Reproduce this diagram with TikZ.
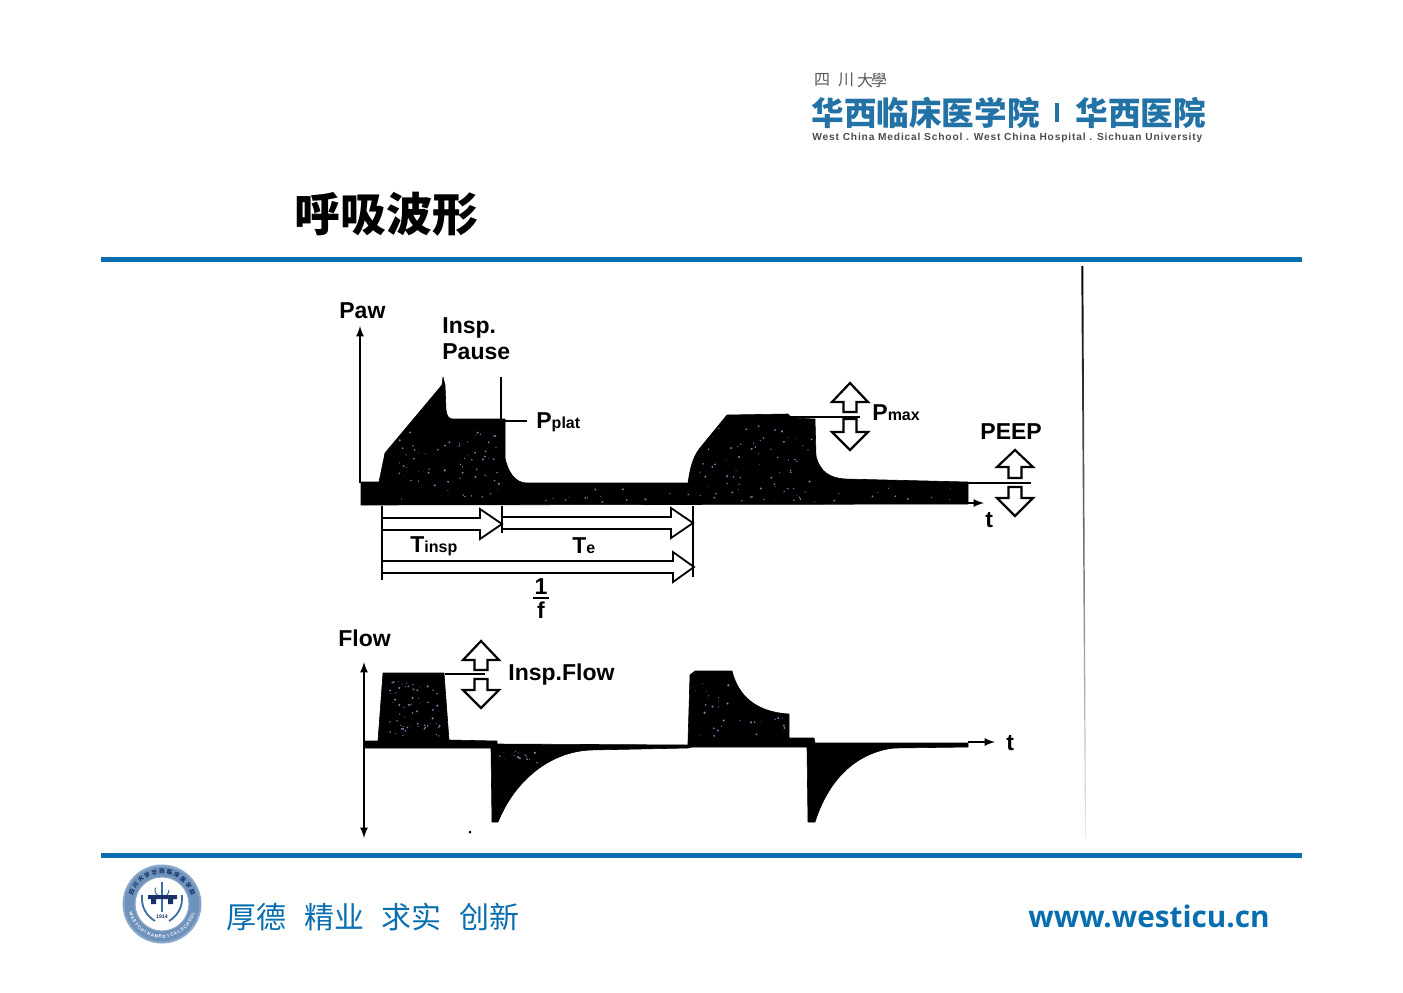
\documentclass[tikz,border=0pt]{standalone}
\usepackage{fontspec}
\setmainfont{Liberation Sans}
\newfontfamily\cjk{Noto Sans CJK SC}
\newfontfamily\webfont{Open Sans}
\usetikzlibrary{arrows, positioning}
\definecolor{rulablue}{RGB}{8,110,176}
\definecolor{logoblue}{RGB}{34,114,166}
\definecolor{sealblue}{RGB}{62,110,165}
\definecolor{sealnavy}{RGB}{24,50,105}
\tikzstyle{rula} = [rulablue, line width=2.5pt]
\tikzstyle{etiqueta} = [inner sep=0pt, anchor=west, font=\fontsize{11.5}{12}\selectfont\bfseries]
\tikzstyle{onda} = [fill=black, draw=black, line width=0.3pt, line join=round]
\tikzstyle{linea} = [black, line width=0.8pt]
\tikzstyle{hueca} = [draw=black, fill=white, line width=1.1pt, line join=miter]
\newcommand{\subt}[1]{{\fontsize{8}{8}\selectfont #1}}
% flecha hueca vertical: centro x, fin del tallo, base de punta, punta
\newcommand{\bloque}[4]{\draw[hueca] (#1-6.5,#2) -- (#1-6.5,#3) -- (#1-18,#3) -- (#1,#4) -- (#1+18,#3) -- (#1+6.5,#3) -- (#1+6.5,#2) -- cycle;}
% flecha hueca horizontal: inicio, base de punta, punta, y
\newcommand{\tiempo}[4]{\draw[hueca, fill=none, line width=0.9pt] (#1,#4-6) -- (#2,#4-6) -- (#2,#4-15) -- (#3,#4) -- (#2,#4+15) -- (#2,#4+6) -- (#1,#4+6);}
% motas claras dentro de lo negro
\newcommand{\motas}[5]{\foreach \i in {1,...,#5}{
	\pgfmathsetmacro{\mx}{#1+rnd*#3}\pgfmathsetmacro{\my}{#2+rnd*#4}\pgfmathsetmacro{\mr}{0.3+rnd*0.9}
	\fill[blue!25!gray!80] (\mx,\my) circle (\mr);}}
\begin{document}
\begin{tikzpicture}[x=0.5pt, y=-0.5pt]
	\useasboundingbox (0,0) rectangle (1403,992);
	\pgfmathsetseed{1403}
	% cabecera
	\foreach \ch/\x in {四/822, 川/846, 大/865, 學/879}{
		\node[inner sep=0pt, text=black!65, font=\cjk\fontsize{8}{8}\selectfont] (sc\x) at (\x,80) {\ch};}
	\node[inner sep=0pt, anchor=west, text=logoblue, font=\cjk\fontsize{16.3}{17}\selectfont\bfseries] (hospa) at (811,113) {华西临床医学院};
	\draw[logoblue, line width=2.2pt] (1057,103) -- (1057,122);
	\node[inner sep=0pt, anchor=west, text=logoblue, font=\cjk\fontsize{16.3}{17}\selectfont\bfseries] (hospb) at (1075,113) {华西医院};
	\node[inner sep=0pt, anchor=west, text=black!70, font=\fontsize{5.1}{6}\selectfont\bfseries\addfontfeature{LetterSpace=8.2}] (hospc) at (812,137.5) {West China Medical School . West China Hospital . Sichuan University};
	\node[inner sep=0pt, font=\cjk\fontsize{23}{24}\selectfont\bfseries] (titulo) at (386,214) {呼吸波形};
	\draw[rula] (101,259) -- (1302,259);
	\draw[rula] (101,855) -- (1302,855);
	\shade[top color=black, middle color=black!70, bottom color=black!8] (1081.3,266) -- (1083.3,266) -- (1086,838) -- (1085,838) -- cycle;
	% presion
	\draw[linea, -latex] (360,483) -- (360,326);
	\draw[onda] (361,482) -- (379,482) -- (385,453) -- (442,385) -- (443,377) -- (445,385) -- (446,410) .. controls (447,416) and (448,418) .. (452,419) -- (505,419) -- (505,458) .. controls (508,472) and (515,483) .. (527,483) -- (688,483) .. controls (690,470) and (692,458) .. (700,448) -- (727,415) -- (788,414) -- (792,418) -- (815,419) -- (816,456) .. controls (820,472) and (830,478) .. (845,479) -- (968,482) -- (968,504) -- (361,505) -- cycle;
	\motas{395}{430}{105}{70}{70}
	\motas{700}{425}{112}{75}{60}
	\motas{530}{488}{430}{14}{35}
	\draw[linea, -latex] (968,503) -- (984,503);
	\draw[linea] (501,377) -- (501,421);
	\draw[linea] (505,421) -- (527,421);
	\draw[linea] (790,417) -- (860,417);
	\draw[linea] (968,483) -- (1031,483);
	\bloque{850}{412}{402}{383}
	\bloque{850}{419}{432}{450}
	\bloque{1015}{478}{467}{450}
	\bloque{1015}{487}{498}{516}
	\draw[linea] (382,506) -- (382,580);
	\draw[linea] (502,506) -- (502,533);
	\draw[linea] (693,506) -- (693,577);
	\tiempo{382}{480}{502}{524}
	\tiempo{502}{671}{693}{523}
	\tiempo{382}{673}{694}{567}
	\node[etiqueta] (paw) at (339,311) {Paw};
	\node[etiqueta] (insp) at (442,328) {Insp.};
	\node[etiqueta] (pause) at (442,352) {Pause};
	\node[etiqueta] (pplat) at (536,422) {P\subt{plat}};
	\node[etiqueta] (pmax) at (872,413) {P\subt{max}};
	\node[etiqueta] (peep) at (980,432) {PEEP};
	\node[etiqueta] (tp) at (985,520) {t};
	\node[etiqueta] (tinsp) at (410,546) {T\subt{insp}};
	\node[etiqueta] (te) at (572,546) {T\subt{e}};
	\node[etiqueta, anchor=center] (uno) at (541,587) {1};
	\node[etiqueta, anchor=center] (efe) at (541,610) {f};
	\draw[linea] (533,598) -- (549,598);
	% flujo
	\draw[linea, latex-latex] (364,662) -- (364,838);
	\draw[onda] (364,741) -- (378,741) -- (383,673) -- (444,673) -- (449,740) -- (497,741) -- (497,744) -- (688,745) -- (688,742) -- (690,675) -- (695,671) -- (732,671) .. controls (738,695) and (755,712) .. (789,714) -- (789,738) -- (814,738) -- (815,743) -- (968,743) -- (968,747) -- (894,748) .. controls (860,752) and (830,775) .. (815,822) -- (808,822) -- (807,747) -- (692,747) -- (688,748) -- (590,750) .. controls (550,752) and (515,780) .. (498,822) -- (492,822) -- (491,748) -- (364,748) -- cycle;
	\motas{388}{680}{52}{58}{65}
	\motas{695}{680}{35}{58}{18}
	\motas{735}{718}{50}{20}{10}
	\motas{498}{750}{40}{14}{14}
	\draw[linea, -latex] (968,742) -- (995,742);
	\draw[linea] (445,674) -- (485,674);
	\bloque{481}{670}{660}{641}
	\bloque{481}{679}{690}{708}
	\fill (470,832) circle (1.5);
	\node[etiqueta] (flow) at (338,638) {Flow};
	\node[etiqueta] (inspflow) at (508,675) {Insp.Flow};
	\node[etiqueta] (tf) at (1006,743) {t};
	% pie
	\draw[sealblue!60, line width=1pt, fill=sealblue!75] (162,904) circle (38.5);
	\draw[sealblue!60, line width=0.5pt, fill=white] (162,904) circle (27);
	\foreach \ch [count=\n from 0] in {四,川,大,学,华,西,临,床,医,学,院}{
		\pgfmathsetmacro{\ang}{158-\n*13.6}
		\node[inner sep=0pt, rotate=\ang-90, text=sealnavy, font=\cjk\fontsize{2.8}{3}\selectfont\bfseries] (sello\n) at ({162+32.5*cos(\ang)},{904-32.5*sin(\ang)}) {\ch};}
	\foreach \ch [count=\n from 0] in {W,E,S,T,C,H,I,N,A,M,E,D,I,C,A,L,S,C,H,O,O,L}{
		\pgfmathsetmacro{\ang}{198+\n*6.9}
		\node[inner sep=0pt, rotate=\ang+90, text=white, font=\fontsize{2.2}{3}\selectfont\bfseries] (lema\n) at ({162+32.5*cos(\ang)},{904-32.5*sin(\ang)}) {\ch};}
	\draw[sealblue, line width=0.7pt] (162,882) -- (162,912);
	\draw[sealblue, line width=0.5pt] (169,890) arc[start angle=0, end angle=200, radius=7];
	\fill[sealnavy] (148,895) -- (177,895) -- (177,899) -- (173,899) -- (173,904) -- (168,904) -- (168,899) -- (156,899) -- (156,904) -- (151,904) -- (151,899) -- (148,899) -- cycle;
	\draw[sealblue, line width=0.9pt] (142,895) .. controls (141,908) and (147,916) .. (155,921);
	\draw[sealblue, line width=0.9pt] (182,895) .. controls (183,908) and (177,916) .. (169,921);
	\node[inner sep=0pt, text=sealnavy, font=\fontsize{2.6}{3}\selectfont\bfseries] (anyo) at (162,917) {1914};
	\node[inner sep=0pt, anchor=west, text=rulablue, font=\cjk\fontsize{15}{16}\selectfont] (lemaa) at (226,917) {厚德};
	\node[inner sep=0pt, anchor=west, text=rulablue, font=\cjk\fontsize{15}{16}\selectfont] (lemab) at (304,917) {精业};
	\node[inner sep=0pt, anchor=west, text=rulablue, font=\cjk\fontsize{15}{16}\selectfont] (lemac) at (381,917) {求实};
	\node[inner sep=0pt, anchor=west, text=rulablue, font=\cjk\fontsize{15}{16}\selectfont] (lemad) at (459,917) {创新};
	\node[inner sep=0pt, anchor=west, text=rulablue, font=\webfont\fontsize{14.85}{16}\selectfont\bfseries] (web) at (1028,916) {www.westicu.cn};
\end{tikzpicture}
\end{document}
